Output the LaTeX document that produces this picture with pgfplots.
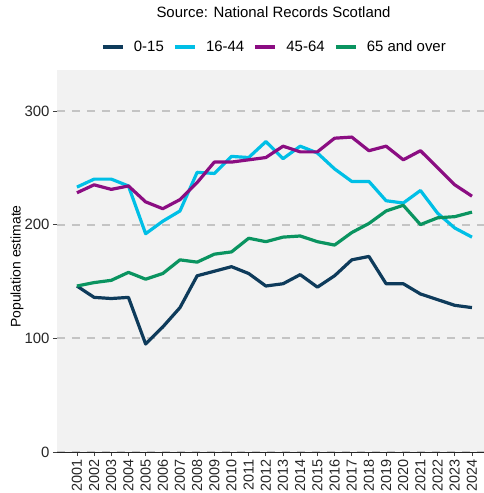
\documentclass[border=0pt]{standalone}
\usepackage{pgfplots}
\pgfplotsset{compat=1.18}
\usepackage{fontspec}
\setmainfont{Liberation Sans}
\definecolor{cA}{RGB}{14,59,91}
\definecolor{cB}{RGB}{0,191,230}
\definecolor{cC}{RGB}{139,13,130}
\definecolor{cD}{RGB}{10,148,96}
\definecolor{bg}{RGB}{242,242,242}
\definecolor{gridc}{RGB}{196,196,196}
\begin{document}
\begin{tikzpicture}
\begin{axis}[
  scale only axis,
  width=427bp, height=382bp,
  xmin=1999.84, xmax=2024.7,
  ymin=0, ymax=336,
  ytick={0,100,200,300},
  xtick={2001,...,2024},
  /pgf/number format/assume math mode=true,
  xticklabel style={rotate=90, anchor=east, font=\fontsize{14.5}{16}\selectfont, text=black!85},
  yticklabel style={font=\fontsize{15}{16}\selectfont, text=black!85},
  x tick label style={/pgf/number format/1000 sep={}},
  tick align=outside,
  major tick length=4bp,
  tick style={black!75, line width=0.8bp},
  axis x line*=bottom,
  axis y line*=left,
  y axis line style={draw=none},
  x axis line style={black!85, line width=0.8bp},
  axis background/.style={fill=bg},
  ymajorgrids,
  major grid style={gridc, line width=2.2bp, dash pattern=on 8bp off 7bp},
  ylabel={Population estimate},
  ylabel style={font=\fontsize{14}{16}\selectfont, at={(rel axis cs:0,0.5)}, anchor=center, xshift=-5.5bp, yshift=40bp},
  title={Source: National Records Scotland},
  title style={font=\fontsize{15}{16}\selectfont, at={(0.5,1)}, anchor=center, yshift=52bp, xshift=3bp},
  legend columns=4,
  legend style={draw=none, fill=none, at={(0.5,1)}, anchor=center, yshift=23bp, xshift=3bp,
    font=\fontsize{15}{16}\selectfont,
    nodes={inner sep=0pt},
    /tikz/every odd column/.append style={column sep=9.5bp},
    /tikz/every even column/.append style={column sep=9.5bp}},
  legend image code/.code={\draw[#1, line width=3.2bp] (0bp,0bp) -- (20bp,0bp);},
  every axis plot/.append style={line width=3.2bp, line join=round},
  clip=false,
]
\addplot[cA] coordinates {(2001,146)(2002,136)(2003,135)(2004,136)(2005,95)(2006,110)(2007,127)(2008,155)(2009,159)(2010,163)(2011,157)(2012,146)(2013,148)(2014,156)(2015,145)(2016,155)(2017,169)(2018,172)(2019,148)(2020,148)(2021,139)(2022,134)(2023,129)(2024,127)};
\addlegendentry{0-15}
\addplot[cB] coordinates {(2001,233)(2002,240)(2003,240)(2004,234)(2005,192)(2006,203)(2007,212)(2008,246)(2009,245)(2010,260)(2011,259)(2012,273)(2013,258)(2014,269)(2015,263)(2016,249)(2017,238)(2018,238)(2019,221)(2020,219)(2021,230)(2022,210)(2023,197)(2024,189)};
\addlegendentry{16-44}
\addplot[cC] coordinates {(2001,228)(2002,235)(2003,231)(2004,234)(2005,220)(2006,214)(2007,222)(2008,237)(2009,255)(2010,255)(2011,257)(2012,259)(2013,269)(2014,264)(2015,264)(2016,276)(2017,277)(2018,265)(2019,269)(2020,257)(2021,265)(2022,250)(2023,235)(2024,225)};
\addlegendentry{45-64}
\addplot[cD] coordinates {(2001,146)(2002,149)(2003,151)(2004,158)(2005,152)(2006,157)(2007,169)(2008,167)(2009,174)(2010,176)(2011,188)(2012,185)(2013,189)(2014,190)(2015,185)(2016,182)(2017,193)(2018,201)(2019,212)(2020,217)(2021,200)(2022,206)(2023,207)(2024,211)};
\addlegendentry{65 and over}
\coordinate (SW) at (rel axis cs:0,0);
\coordinate (NE) at (rel axis cs:1,1);
\end{axis}
\pgfresetboundingbox
\useasboundingbox ([xshift=-57bp,yshift=-41bp]SW) rectangle ([yshift=70bp]NE);
\end{tikzpicture}
\end{document}
